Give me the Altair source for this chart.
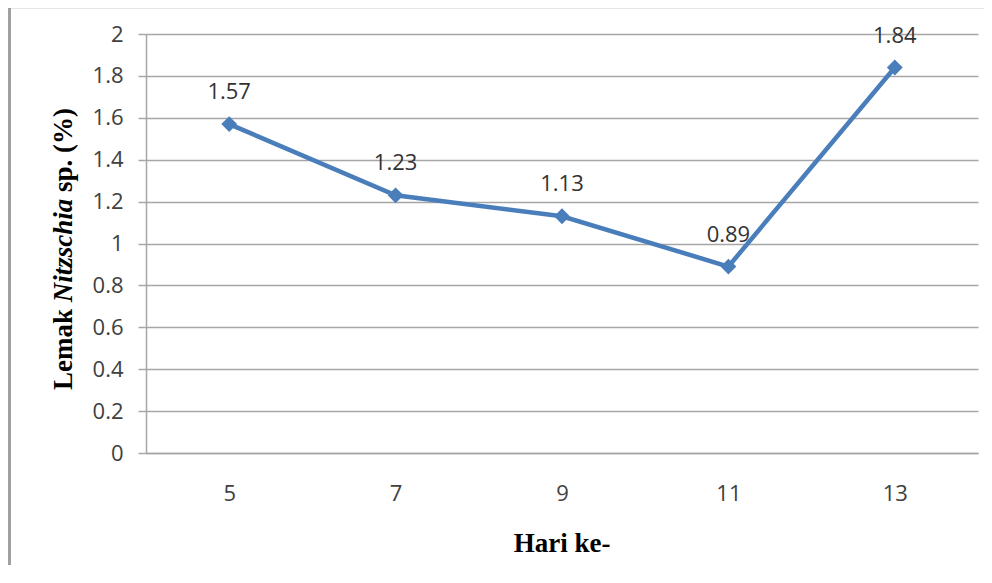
import altair as alt
import pandas as pd

# ---- data ----
days = ["5", "7", "9", "11", "13"]
lemak = [1.57, 1.23, 1.13, 0.89, 1.84]
y_ticks = [0, 0.2, 0.4, 0.6, 0.8, 1.0, 1.2, 1.4, 1.6, 1.8, 2.0]
ytitle_parts = ["Lemak", "Nitzschia", "sp. (%)"]
xtitle = ["Hari ke-"]

df = pd.DataFrame({"hari": days, "lemak": lemak})

W, H = 832, 419
BLUE = "#4a7ebb"
GRID = "#a6a6a6"
LABEL = "#404040"
SANS = "Open Sans"
SERIF = "Liberation Serif"
TFS = 27  # title font size

x = alt.X(
    "hari:N", sort=days,
    scale=alt.Scale(type="point", padding=0.5),
    axis=alt.Axis(title=None, labelAngle=0, ticks=False, domainColor=GRID,
                  domainWidth=1.5, labelPadding=30, labelFont=SANS,
                  labelFontSize=22, labelColor=LABEL, grid=False),
)
y = alt.Y(
    "lemak:Q",
    scale=alt.Scale(domain=[0, 2], nice=False, zero=True),
    axis=alt.Axis(title=None, values=y_ticks, format="~g", tickSize=8,
                  tickColor=GRID, tickWidth=1.5, gridColor=GRID, gridWidth=1.5,
                  domainColor=GRID, domainWidth=1.5, labelPadding=15,
                  labelFont=SANS, labelFontSize=22, labelColor=LABEL),
)

base = alt.Chart(df).encode(x=x, y=y)
line = base.mark_line(color=BLUE, strokeWidth=4.5)
pts = base.mark_point(shape="diamond", filled=True, size=250, color=BLUE, opacity=1)
labels = base.mark_text(dy=-25, baseline="alphabetic", align="center", font=SANS,
                        fontSize=22, color="#333333").encode(
    text=alt.Text("lemak:Q", format=".2f"))

# y-axis title in three pieces (mixed italic)
y0 = 356
w_lemak = (3.0 + 0.25) * TFS
w_nitz = (3.834 + 0.25) * TFS
yt1 = alt.Chart(pd.DataFrame({"t": [ytitle_parts[0]]})).mark_text(
    angle=270, align="left", baseline="alphabetic", font=SERIF, fontWeight="bold",
    fontSize=TFS, color="#000000").encode(x=alt.value(-74), y=alt.value(y0), text="t:N")
yt2 = alt.Chart(pd.DataFrame({"t": [ytitle_parts[1]]})).mark_text(
    angle=270, align="left", baseline="alphabetic", font=SERIF, fontWeight="bold",
    fontStyle="italic", fontSize=TFS, color="#000000").encode(
    x=alt.value(-74), y=alt.value(y0 - w_lemak), text="t:N")
yt3 = alt.Chart(pd.DataFrame({"t": [ytitle_parts[2]]})).mark_text(
    angle=270, align="left", baseline="alphabetic", font=SERIF, fontWeight="bold",
    fontSize=TFS, color="#000000").encode(
    x=alt.value(-74), y=alt.value(y0 - w_lemak - w_nitz), text="t:N")

xt = alt.Chart(pd.DataFrame({"t": xtitle})).mark_text(
    align="center", baseline="alphabetic", font=SERIF, fontWeight="bold",
    fontSize=TFS, color="#000000").encode(x=alt.value(416), y=alt.value(518), text="t:N")

# frame lines of the original image
left_bar = alt.Chart(pd.DataFrame({"a": [0]})).mark_rule(
    color="#a0a0a0", strokeWidth=3).encode(
    x=alt.value(-136.5), y=alt.value(-26), y2=alt.value(560))
top_line = alt.Chart(pd.DataFrame({"a": [0]})).mark_rule(
    color="#e6e6e6", strokeWidth=1).encode(
    x=alt.value(-135), x2=alt.value(840), y=alt.value(-25.5))

chart = alt.layer(left_bar, top_line, line, pts, labels, yt1, yt2, yt3, xt).properties(
    width=W, height=H,
    autosize=alt.AutoSizeParams(type="none"),
    padding={"left": 138, "top": 26, "right": 6, "bottom": 112},
    background="white",
).configure_view(stroke=None)

chart.save("out.html", embed_options={"renderer": "svg", "actions": False})
